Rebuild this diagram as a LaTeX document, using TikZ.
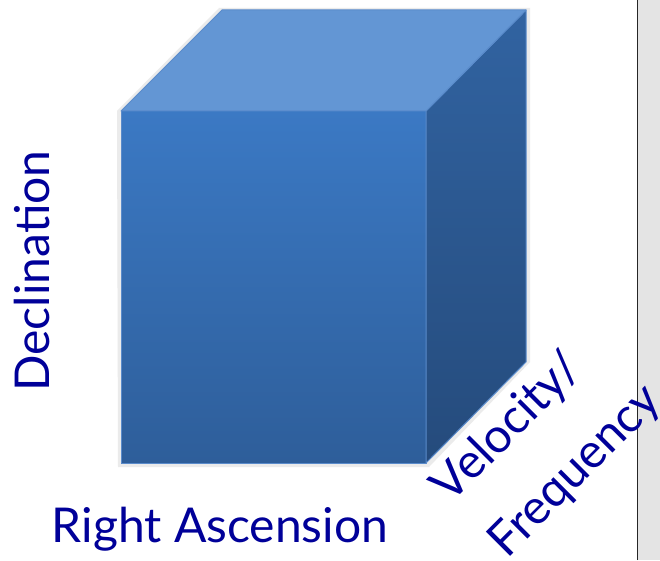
\documentclass[tikz,border=0pt]{standalone}
\usepackage{fontspec}
\setmainfont{Lato}
\usepackage{xcolor}
\usepackage{tikz}
\usetikzlibrary{positioning,calc}
\definecolor{cNavy}{HTML}{000099}
\definecolor{cEdge}{HTML}{5A8BCB}
\definecolor{cTop}{HTML}{6396D4}
\definecolor{cFrontT}{HTML}{3B79C4}
\definecolor{cFrontB}{HTML}{2E5E9A}
\definecolor{cSideT}{HTML}{3163A1}
\definecolor{cSideB}{HTML}{254B7C}
\definecolor{cPanel}{HTML}{E4E4E4}
\tikzset{
  axlbl/.style={font=\fontsize{48}{54}\selectfont,text=cNavy,inner sep=0pt},
  face/.style={draw=cEdge,line width=1pt,line join=round},
}

\begin{document}
\begin{tikzpicture}[x=1pt,y=1pt]
    \useasboundingbox (0,0) rectangle (660,560);
    \fill[white] (0,0) rectangle (660,560);
    % side panel
    \fill[cPanel] (638,0) rectangle (660,560);
    \draw[black!85,line width=1.2pt] (637.5,0) -- (637.5,560);
    % cube corners
    \coordinate (fbl) at (121,97);
    \coordinate (fbr) at (426,97);
    \coordinate (ftl) at (121,449);
    \coordinate (ftr) at (426,449);
    \coordinate (btl) at (222,550);
    \coordinate (btr) at (526,550);
    \coordinate (bbr) at (526,198);
    % soft shadow
    \fill[black!8] ($(fbl)+(-3,-4)$) -- ($(fbr)+(3,-4)$) -- ($(bbr)+(4,0)$) -- ($(btr)+(4,2)$) -- ($(btl)+(-3,2)$) -- ($(ftl)+(-4,0)$) -- cycle;
    \shade[face,top color=cFrontT,bottom color=cFrontB] (fbl) rectangle (ftr);
    \shade[face,top color=cSideT,bottom color=cSideB] (fbr) -- (bbr) -- (btr) -- (ftr) -- cycle;
    \filldraw[face,fill=cTop] (ftl) -- (btl) -- (btr) -- (ftr) -- cycle;
    % axis labels
    \node[axlbl,anchor=base] (ra) at (220,18) {Right Ascension};
    \node[axlbl,rotate=90] (dec) at (32,289) {Declination};
    \node[axlbl,rotate=45] (vel) at (508,132) {Velocity/};
    \node[axlbl,rotate=45] (freq) at (576,88) {Frequency};
\end{tikzpicture}
\end{document}
